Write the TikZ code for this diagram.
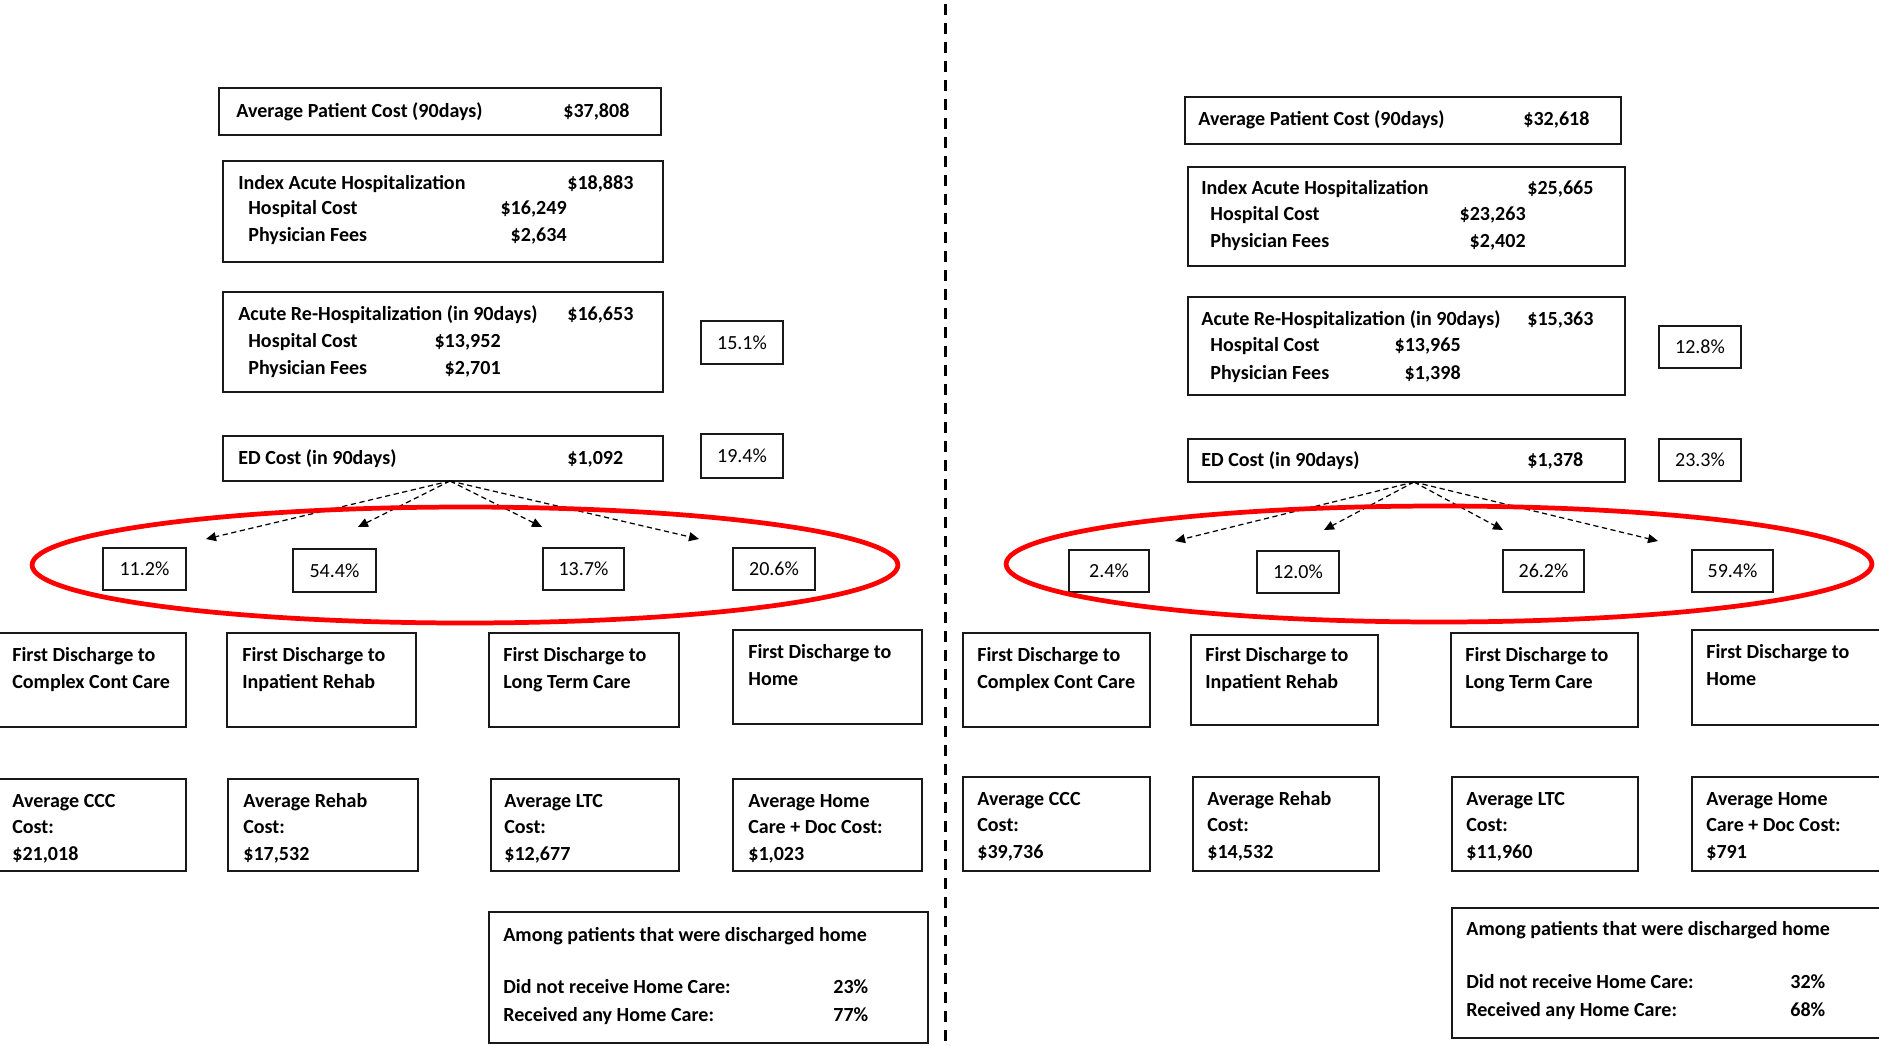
\documentclass[tikz,border=0pt]{standalone}
\usepackage{fontspec}
\setmainfont{Carlito}
\usetikzlibrary{arrows.meta}

% box given by its two corners (in pixel units of the picture)
\newcommand\cbox[5]{%
  \node[box, minimum width={(#4-#2)*0.02cm}, minimum height={(#5-#3)*0.02cm}]
    (#1) at ({(#2+#4)/2},{(#3+#5)/2}) {};}
% percentage box with its value centred inside
\newcommand\pbox[6]{%
  \node[box, pct, minimum width={(#4-#2)*0.02cm}, minimum height={(#5-#3)*0.02cm}]
    (#1) at ({(#2+#4)/2},{(#3+#5)/2}) {#6};}

\tikzset{
  box/.style={draw=black!90, line width=1.1pt, inner sep=0pt, outer sep=0pt, fill=white},
  pct/.style={font=\fontsize{11.4}{13}\selectfont},
  lbl/.style={inner sep=0pt, anchor=base west, font=\fontsize{11.4}{13}\selectfont\bfseries},
  num/.style={inner sep=0pt, anchor=base east, font=\fontsize{11.4}{13}\selectfont\bfseries},
  arr/.style={densely dashed, line width=0.7pt, -{Triangle[length=0.2cm, width=0.18cm]}},
  ring/.style={draw=red, line width=2.7pt},
  divider/.style={line width=1.3pt, dash pattern=on 0.22cm off 0.16cm}
}

\begin{document}
\begin{tikzpicture}[x=0.02cm, y=-0.02cm]
\useasboundingbox (0,0) rectangle (1879,1045);

% ---------------- left panel ----------------
\cbox{lavg}{219}{88}{661}{135}
\node[lbl] (lavgt) at (236,117) {Average Patient Cost (90days)};
\node[lbl] (lavgv) at (563,117) {\$37,808};

\cbox{lidx}{223}{161}{663}{262}
\node[lbl] (lidxt) at (238,189) {Index Acute Hospitalization};
\node[lbl] (lidxv) at (567,189) {\$18,883};
\node[lbl] (lidxh) at (248,214) {Hospital Cost};
\node[num] (lidxhv) at (567,214) {\$16,249};
\node[lbl] (lidxp) at (248,241) {Physician Fees};
\node[num] (lidxpv) at (567,241) {\$2,634};

\cbox{lre}{223}{292}{663}{392}
\node[lbl] (lret) at (238,320) {Acute Re-Hospitalization (in 90days)};
\node[lbl] (lrev) at (567,320) {\$16,653};
\node[lbl] (lreh) at (248,347) {Hospital Cost};
\node[num] (lrehv) at (501,347) {\$13,952};
\node[lbl] (lrep) at (248,374) {Physician Fees};
\node[num] (lrepv) at (501,374) {\$2,701};
\pbox{lrepct}{701}{321}{783}{364}{15.1\%}

\cbox{led}{223}{436}{663}{481}
\node[lbl] (ledt) at (238,464) {ED Cost (in 90days)};
\node[lbl] (ledv) at (567,464) {\$1,092};
\pbox{ledpct}{701}{434}{783}{478}{19.4\%}

\coordinate (lo) at (450,481);
\coordinate (lt1) at (206,539);
\coordinate (lt2) at (358,527);
\coordinate (lt3) at (542,527);
\coordinate (lt4) at (699,539);
\foreach \t in {lt1,lt2,lt3,lt4} \draw[arr] (lo) -- (\t);

\pbox{lp1}{103}{548}{186}{590}{11.2\%}
\pbox{lp2}{293}{549}{376}{592}{54.4\%}
\pbox{lp3}{543}{548}{624}{590}{13.7\%}
\pbox{lp4}{733}{548}{815}{590}{20.6\%}

\cbox{ld1}{-3}{633}{186}{727}
\node[lbl] (ld1a) at (12,661) {First Discharge to};
\node[lbl] (ld1b) at (12,688) {Complex Cont Care};
\cbox{ld2}{227}{633}{416}{727}
\node[lbl] (ld2a) at (242,661) {First Discharge to};
\node[lbl] (ld2b) at (242,688) {Inpatient Rehab};
\cbox{ld3}{489}{633}{679}{727}
\node[lbl] (ld3a) at (503,661) {First Discharge to};
\node[lbl] (ld3b) at (503,688) {Long Term Care};
\cbox{ld4}{733}{630}{922}{724}
\node[lbl] (ld4a) at (748,658) {First Discharge to};
\node[lbl] (ld4b) at (748,685) {Home};

\cbox{lc1}{-3}{779}{186}{871}
\node[lbl] (lc1a) at (12,807) {Average CCC};
\node[lbl] (lc1b) at (12,833) {Cost:};
\node[lbl] (lc1c) at (12,860) {\$21,018};
\cbox{lc2}{228}{779}{418}{871}
\node[lbl] (lc2a) at (243,807) {Average Rehab};
\node[lbl] (lc2b) at (243,833) {Cost:};
\node[lbl] (lc2c) at (243,860) {\$17,532};
\cbox{lc3}{491}{779}{679}{871}
\node[lbl] (lc3a) at (504,807) {Average LTC};
\node[lbl] (lc3b) at (504,833) {Cost:};
\node[lbl] (lc3c) at (504,860) {\$12,677};
\cbox{lc4}{733}{779}{922}{871}
\node[lbl] (lc4a) at (748,807) {Average Home};
\node[lbl] (lc4b) at (748,833) {Care + Doc Cost:};
\node[lbl] (lc4c) at (748,860) {\$1,023};

\cbox{lhome}{489}{912}{928}{1043}
\node[lbl] (lhomet) at (503,941) {Among patients that were discharged home};
\node[lbl] (lhome1) at (503,993) {Did not receive Home Care:};
\node[lbl] (lhome1v) at (833,993) {23\%};
\node[lbl] (lhome2) at (503,1021) {Received any Home Care:};
\node[lbl] (lhome2v) at (833,1021) {77\%};

\draw[ring] (465,565) ellipse [x radius=8.66cm, y radius=1.16cm];

% ---------------- separator ----------------
\coordinate (sepa) at (945.5,4);
\coordinate (sepb) at (945.5,1045);
\draw[divider] (sepa) -- (sepb);

% ---------------- right panel ----------------
\cbox{ravg}{1185}{97}{1621}{144}
\node[lbl] (ravgt) at (1198,125) {Average Patient Cost (90days)};
\node[lbl] (ravgv) at (1523,125) {\$32,618};

\cbox{ridx}{1188}{167}{1625}{266}
\node[lbl] (ridxt) at (1201,194) {Index Acute Hospitalization};
\node[lbl] (ridxv) at (1527,194) {\$25,665};
\node[lbl] (ridxh) at (1210,220) {Hospital Cost};
\node[num] (ridxhv) at (1526,220) {\$23,263};
\node[lbl] (ridxp) at (1210,247) {Physician Fees};
\node[num] (ridxpv) at (1526,247) {\$2,402};

\cbox{rre}{1188}{297}{1625}{395}
\node[lbl] (rret) at (1201,325) {Acute Re-Hospitalization (in 90days)};
\node[lbl] (rrev) at (1527,325) {\$15,363};
\node[lbl] (rreh) at (1210,351) {Hospital Cost};
\node[num] (rrehv) at (1461,351) {\$13,965};
\node[lbl] (rrep) at (1210,379) {Physician Fees};
\node[num] (rrepv) at (1461,379) {\$1,398};
\pbox{rrepct}{1659}{326}{1741}{368}{12.8\%}

\cbox{red}{1188}{439}{1625}{482}
\node[lbl] (redt) at (1201,466) {ED Cost (in 90days)};
\node[lbl] (redv) at (1527,466) {\$1,378};
\pbox{redpct}{1659}{439}{1741}{481}{23.3\%}

\coordinate (ro) at (1414,482);
\coordinate (rt1) at (1175,541);
\coordinate (rt2) at (1324,530);
\coordinate (rt3) at (1503,530);
\coordinate (rt4) at (1658,541);
\foreach \t in {rt1,rt2,rt3,rt4} \draw[arr] (ro) -- (\t);

\pbox{rp1}{1069}{550}{1149}{592}{2.4\%}
\pbox{rp2}{1257}{551}{1339}{593}{12.0\%}
\pbox{rp3}{1503}{550}{1584}{592}{26.2\%}
\pbox{rp4}{1692}{550}{1773}{592}{59.4\%}

\cbox{rd1}{963}{633}{1150}{727}
\node[lbl] (rd1a) at (977,661) {First Discharge to};
\node[lbl] (rd1b) at (977,688) {Complex Cont Care};
\cbox{rd2}{1191}{635}{1378}{725}
\node[lbl] (rd2a) at (1205,661) {First Discharge to};
\node[lbl] (rd2b) at (1205,688) {Inpatient Rehab};
\cbox{rd3}{1451}{633}{1638}{727}
\node[lbl] (rd3a) at (1465,661) {First Discharge to};
\node[lbl] (rd3b) at (1465,688) {Long Term Care};
\cbox{rd4}{1692}{630}{1882}{725}
\node[lbl] (rd4a) at (1706,658) {First Discharge to};
\node[lbl] (rd4b) at (1706,685) {Home};

\cbox{rc1}{963}{777}{1150}{871}
\node[lbl] (rc1a) at (977,805) {Average CCC};
\node[lbl] (rc1b) at (977,831) {Cost:};
\node[lbl] (rc1c) at (977,858) {\$39,736};
\cbox{rc2}{1193}{777}{1379}{871}
\node[lbl] (rc2a) at (1207,805) {Average Rehab};
\node[lbl] (rc2b) at (1207,831) {Cost:};
\node[lbl] (rc2c) at (1207,858) {\$14,532};
\cbox{rc3}{1452}{777}{1638}{871}
\node[lbl] (rc3a) at (1466,805) {Average LTC};
\node[lbl] (rc3b) at (1466,831) {Cost:};
\node[lbl] (rc3c) at (1466,858) {\$11,960};
\cbox{rc4}{1692}{777}{1882}{871}
\node[lbl] (rc4a) at (1706,805) {Average Home};
\node[lbl] (rc4b) at (1706,831) {Care + Doc Cost:};
\node[lbl] (rc4c) at (1706,858) {\$791};

\cbox{rhome}{1452}{908}{1882}{1038}
\node[lbl] (rhomet) at (1466,935) {Among patients that were discharged home};
\node[lbl] (rhome1) at (1466,988) {Did not receive Home Care:};
\node[lbl] (rhome1v) at (1790,988) {32\%};
\node[lbl] (rhome2) at (1466,1016) {Received any Home Care:};
\node[lbl] (rhome2v) at (1790,1016) {68\%};

\draw[ring] (1439,564) ellipse [x radius=8.66cm, y radius=1.16cm];
\end{tikzpicture}
\end{document}
